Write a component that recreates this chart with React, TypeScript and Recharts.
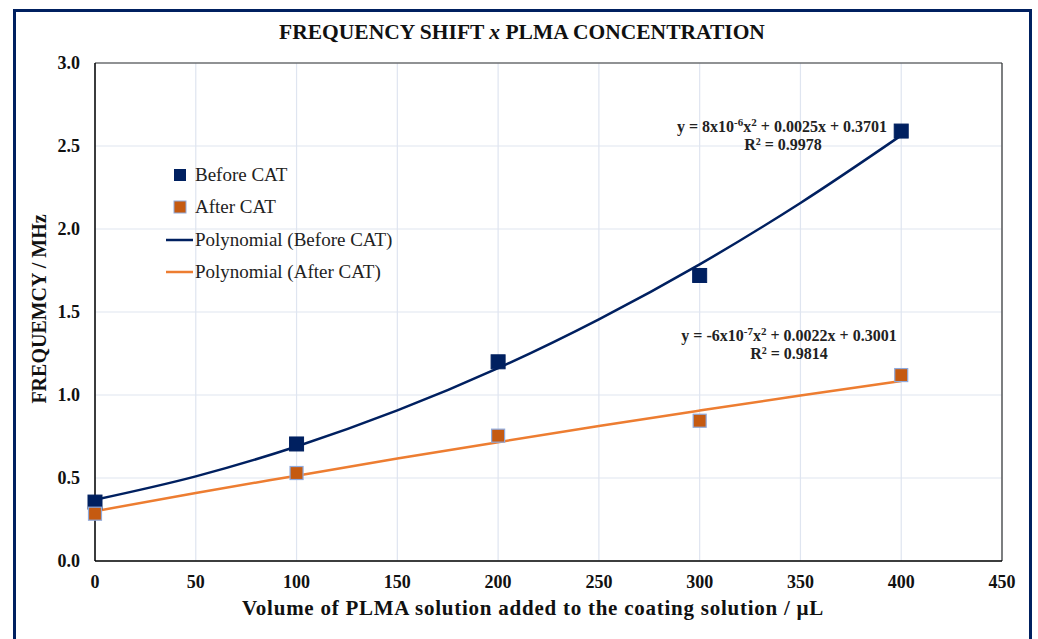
import React from "react";
import { ComposedChart, XAxis, YAxis, CartesianGrid, Scatter, Line, ReferenceLine } from "recharts";

const volumes = [0, 100, 200, 300, 400];
const beforeCAT = [0.355, 0.705, 1.2, 1.72, 2.59];
const afterCAT = [0.285, 0.53, 0.755, 0.845, 1.12];

const trendX = [0, 50, 100, 150, 200, 250, 300, 350, 400];
const trendBefore = [0.369, 0.51, 0.69, 0.907, 1.162, 1.456, 1.787, 2.157, 2.564];
const trendAfter = [0.3, 0.41, 0.514, 0.617, 0.716, 0.813, 0.906, 0.997, 1.084];

const xTicks = [0, 50, 100, 150, 200, 250, 300, 350, 400, 450];
const yTicks = [0, 0.5, 1, 1.5, 2, 2.5, 3];

const beforeData = volumes.map((x, i) => ({ x, y: beforeCAT[i] }));
const afterData = volumes.map((x, i) => ({ x, y: afterCAT[i] }));
const trendBeforeData = trendX.map((x, i) => ({ x, y: trendBefore[i] }));
const trendAfterData = trendX.map((x, i) => ({ x, y: trendAfter[i] }));

const NAVY = "#002060";
const ORANGE_LINE = "#ed7d31";
const ORANGE_FILL = "#c55a11";
const FONT = "'Liberation Serif', 'Times New Roman', serif";

const SquareBefore = (props: any) => {
  const { cx, cy } = props;
  if (cx == null || cy == null) return null;
  const s = 14;
  return <rect x={cx - s / 2} y={cy - s / 2} width={s} height={s} fill={NAVY} stroke={NAVY} strokeWidth={1} />;
};
const SquareAfter = (props: any) => {
  const { cx, cy } = props;
  if (cx == null || cy == null) return null;
  const s = 13;
  return <rect x={cx - s / 2} y={cy - s / 2} width={s} height={s} fill={ORANGE_FILL} stroke="#8faadc" strokeWidth={1.2} />;
};

export default function App() {
  return (
    <div style={{ position: "absolute", left: 0, top: 0, width: 1038, height: 639, background: "#fff", overflow: "hidden" }}>
      <ComposedChart
        width={1038}
        height={639}
        margin={{ top: 63, right: 36, bottom: 48, left: 35 }}
        style={{ fontFamily: FONT }}
      >
        <CartesianGrid stroke="#dfe5f0" strokeWidth={1.2} />
        <XAxis
          dataKey="x"
          type="number"
          domain={[0, 450]}
          ticks={xTicks}
          height={30}
          tickLine={false}
          tickMargin={8}
          axisLine={{ stroke: "#000", strokeWidth: 1.5 }}
          tick={{ fill: "#111", fontSize: 18, fontWeight: 700, fontFamily: FONT }}
        />
        <YAxis
          dataKey="y"
          type="number"
          domain={[0, 3]}
          ticks={yTicks}
          width={60}
          tickLine={false}
          tickMargin={9}
          axisLine={{ stroke: "#000", strokeWidth: 1.5 }}
          tickFormatter={(v: number) => v.toFixed(1)}
          tick={{ fill: "#111", fontSize: 18, fontWeight: 700, fontFamily: FONT }}
        />
        <ReferenceLine y={3} stroke="#333" strokeWidth={1.2} />
        <ReferenceLine x={450} stroke="#333" strokeWidth={1.2} />
        <Line data={trendBeforeData} dataKey="y" type="monotone" stroke={NAVY} strokeWidth={2.5} dot={false} isAnimationActive={false} />
        <Line data={trendAfterData} dataKey="y" type="monotone" stroke={ORANGE_LINE} strokeWidth={2.5} dot={false} isAnimationActive={false} />
        <Scatter data={beforeData} dataKey="y" shape={<SquareBefore />} isAnimationActive={false} />
        <Scatter data={afterData} dataKey="y" shape={<SquareAfter />} isAnimationActive={false} />
      </ComposedChart>
      <svg width={1038} height={639} style={{ position: "absolute", left: 0, top: 0, pointerEvents: "none", fontFamily: FONT }}>
        <rect x={14.5} y={10.5} width={1016} height={700} fill="none" stroke={NAVY} strokeWidth={3} />
        <text x={522} y={39} textAnchor="middle" fontSize={21.5} fontWeight={700} fill="#111">
          FREQUENCY SHIFT <tspan fontStyle="italic">x</tspan> PLMA CONCENTRATION
        </text>
        <text x={533} y={615} textAnchor="middle" fontSize={21} fontWeight={700} letterSpacing={0.75} fill="#111">
          Volume of PLMA solution added to the coating solution / µL
        </text>
        <text transform="translate(46,309) rotate(-90)" textAnchor="middle" fontSize={20} fontWeight={700} fill="#111">
          FREQUEMCY / MHz
        </text>
        {/* legend */}
        <rect x={174} y={169} width={12} height={12} fill={NAVY} />
        <text x={195} y={181} fontSize={19} fill="#222">Before CAT</text>
        <rect x={174} y={201} width={12} height={12} fill={ORANGE_FILL} stroke="#8faadc" strokeWidth={1} />
        <text x={195} y={213} fontSize={19} fill="#222">After CAT</text>
        <line x1={166} y1={240} x2={193} y2={240} stroke={NAVY} strokeWidth={2.5} />
        <text x={195} y={246} fontSize={19} fill="#222">Polynomial (Before CAT)</text>
        <line x1={166} y1={272} x2={193} y2={272} stroke={ORANGE_LINE} strokeWidth={2.5} />
        <text x={195} y={278} fontSize={19} fill="#222">Polynomial (After CAT)</text>
        {/* equations */}
        <text x={782} y={132} textAnchor="middle" fontSize={16} fontWeight={700} fill="#222">
          y = 8x10<tspan fontSize={11} dy={-6}>-6</tspan><tspan dy={6}>x</tspan><tspan fontSize={11} dy={-6}>2</tspan><tspan dy={6}> + 0.0025x + 0.3701</tspan>
        </text>
        <text x={783} y={150} textAnchor="middle" fontSize={16} fontWeight={700} fill="#222">
          R<tspan fontSize={10} dy={-5}>2</tspan><tspan dy={5}> = 0.9978</tspan>
        </text>
        <text x={789} y={341} textAnchor="middle" fontSize={16} fontWeight={700} fill="#222">
          y = -6x10<tspan fontSize={11} dy={-6}>-7</tspan><tspan dy={6}>x</tspan><tspan fontSize={11} dy={-6}>2</tspan><tspan dy={6}> + 0.0022x + 0.3001</tspan>
        </text>
        <text x={789} y={359} textAnchor="middle" fontSize={16} fontWeight={700} fill="#222">
          R<tspan fontSize={10} dy={-5}>2</tspan><tspan dy={5}> = 0.9814</tspan>
        </text>
      </svg>
    </div>
  );
}
